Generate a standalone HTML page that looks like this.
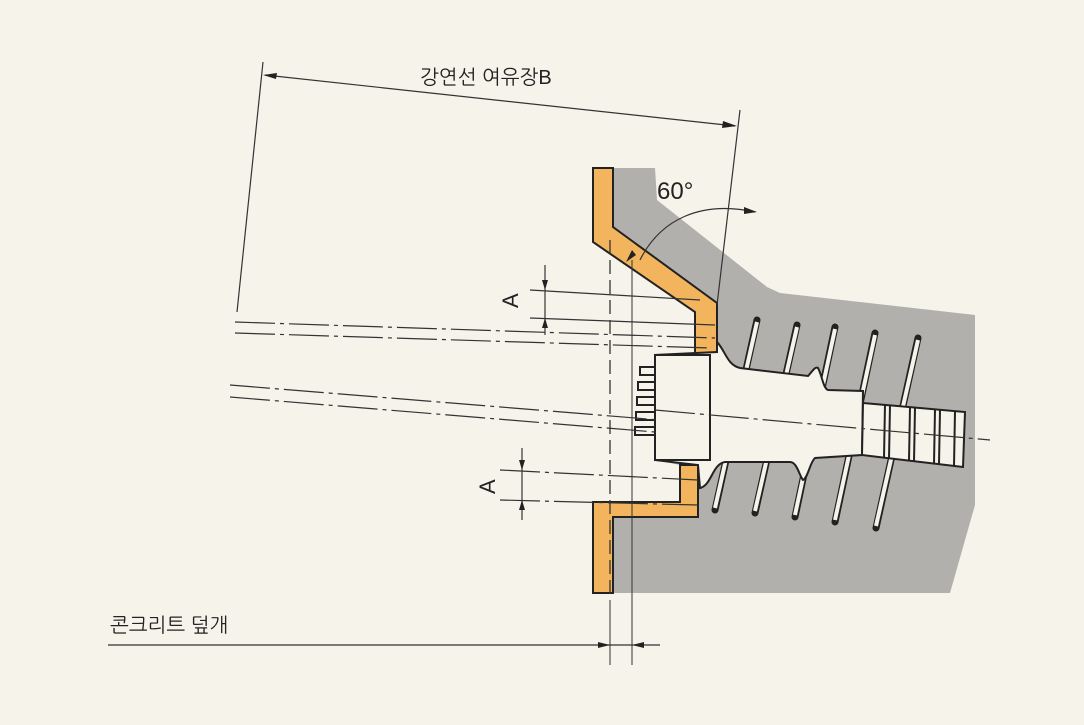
<!DOCTYPE html>
<html><head><meta charset="utf-8"><style>
html,body{margin:0;padding:0;background:#f6f3eb;}
svg{display:block}
text{font-family:"Liberation Sans","NanumGothic","Noto Sans CJK KR",sans-serif;fill:#222}
</style></head><body>
<svg width="1084" height="725" viewBox="0 0 1084 725" xmlns="http://www.w3.org/2000/svg">
<rect width="1084" height="725" fill="#f6f3eb"/>
<polygon points="613,168 655,168 657,200 767,287 780,293 975,315 975,505 950,593 613,593" fill="#b2b0ad"/>
<polygon points="613,228 717,303 717,342 715,352 655,355 655,460 680,465 680,502 613,502" fill="#f6f3eb"/>
<g fill="#f2b45c" stroke="#222" stroke-width="2">
<polygon points="593,168 613,168 613,227 717,303 717,352 695,355 695,312 593,242"/>
<polygon points="680,465 698,465 698,517 613,517 613,593 593,593 593,502 680,502"/>
</g>
<g stroke="#222" stroke-width="7" stroke-linecap="round">
<line x1="757" y1="320" x2="715" y2="510"/><line x1="797" y1="325" x2="755" y2="513"/>
<line x1="835" y1="327" x2="795" y2="517"/><line x1="875" y1="333" x2="835" y2="522"/>
<line x1="918" y1="338" x2="876" y2="528"/>
</g>
<g stroke="#f6f3eb" stroke-width="4" stroke-linecap="butt">
<line x1="757" y1="322" x2="715" y2="508"/><line x1="797" y1="327" x2="755" y2="511"/>
<line x1="835" y1="329" x2="795" y2="515"/><line x1="875" y1="335" x2="835" y2="520"/>
<line x1="918" y1="340" x2="876" y2="526"/>
</g>
<path d="M717,342 C725,350 727,365 740,368 L808,376 C812,372 815,366 818,368 C822,375 823,388 828,390 L863,391 L862,455 L815,458 C810,462 808,478 803,480 C799,475 797,462 790,462 L725,462 C712,464 712,485 700,488 L698,465 L680,463 L655,460 L655,355 L717,352 Z" fill="#f6f3eb" stroke="#222" stroke-width="2"/>
<rect x="655" y="355" width="55" height="105" fill="#f6f3eb" stroke="#222" stroke-width="2"/>
<path d="M863,403 L965,412 L963,467 L862,455 Z" fill="#f6f3eb" stroke="#222" stroke-width="2"/>
<g stroke="#222" stroke-width="2" fill="none">
<line x1="885" y1="404" x2="884" y2="458"/><line x1="890" y1="405" x2="889" y2="459"/>
<line x1="910" y1="407" x2="909" y2="461"/><line x1="915" y1="407" x2="914" y2="462"/>
<line x1="935" y1="409" x2="934" y2="464"/><line x1="940" y1="410" x2="939" y2="464"/>
<line x1="955" y1="411" x2="954" y2="466"/>
</g>
<g fill="#f6f3eb" stroke="#222" stroke-width="2">
<rect x="640" y="367" width="15" height="8"/><rect x="638" y="382" width="17" height="8"/>
<rect x="637" y="397" width="18" height="8"/><rect x="636" y="412" width="19" height="8"/>
<rect x="635" y="427" width="20" height="8"/>
</g>
<g stroke="#333" stroke-width="1.2" fill="none" stroke-dasharray="40,5,4,5">
<line x1="235" y1="322" x2="715" y2="338"/><line x1="235" y1="333" x2="710" y2="348"/>
<line x1="230" y1="385" x2="660" y2="420"/><line x1="230" y1="397" x2="655" y2="432"/>
<line x1="655" y1="410" x2="990" y2="440"/>
<line x1="500" y1="470" x2="698" y2="480"/><line x1="500" y1="500" x2="698" y2="505"/>
</g>
<g stroke="#333" stroke-width="1.2">
<line x1="530" y1="290" x2="700" y2="300"/><line x1="530" y1="318" x2="715" y2="325"/>
</g>
<line x1="610" y1="240" x2="610" y2="600" stroke="#333" stroke-width="1.3" stroke-dasharray="14,6"/>
<line x1="632" y1="260" x2="632" y2="665" stroke="#333" stroke-width="1"/>
<line x1="610" y1="600" x2="610" y2="665" stroke="#333" stroke-width="1"/>
<g stroke="#333" stroke-width="1.2" fill="none">
<line x1="263" y1="62" x2="237" y2="312"/>
<line x1="740" y1="110" x2="717" y2="305"/>
<line x1="265" y1="75" x2="735" y2="126"/>
<path d="M640,260 C660,220 700,200 755,212"/>
</g>
<g fill="#222">
<polygon points="263,75 277,73 276,79"/>
<polygon points="737,126 723,121 722,128"/>
<polygon points="757,212 744,207 744,214"/>
<polygon points="626,262 632,250 636,255"/>
</g>
<text x="420" y="84" font-size="20">강연선 여유장B</text>
<text x="657" y="199" font-size="24">60°</text>
<g stroke="#333" stroke-width="1.2"><line x1="545" y1="265" x2="545" y2="335"/><line x1="522" y1="448" x2="522" y2="520"/></g>
<g fill="#222">
<polygon points="545,290 542,280 548,280"/><polygon points="545,318 542,328 548,328"/>
<polygon points="522,470 519,460 525,460"/><polygon points="522,500 519,510 525,510"/>
</g>
<text x="0" y="0" font-size="22" transform="translate(518,308) rotate(-90)">A</text>
<text x="0" y="0" font-size="22" transform="translate(495,494) rotate(-90)">A</text>
<text x="110" y="632" font-size="20">콘크리트 덮개</text>
<line x1="108" y1="645" x2="660" y2="645" stroke="#333" stroke-width="1.2"/>
<polygon points="610,645 598,642 598,648" fill="#222"/>
<polygon points="632,645 644,642 644,648" fill="#222"/>
</svg>
</body></html>
